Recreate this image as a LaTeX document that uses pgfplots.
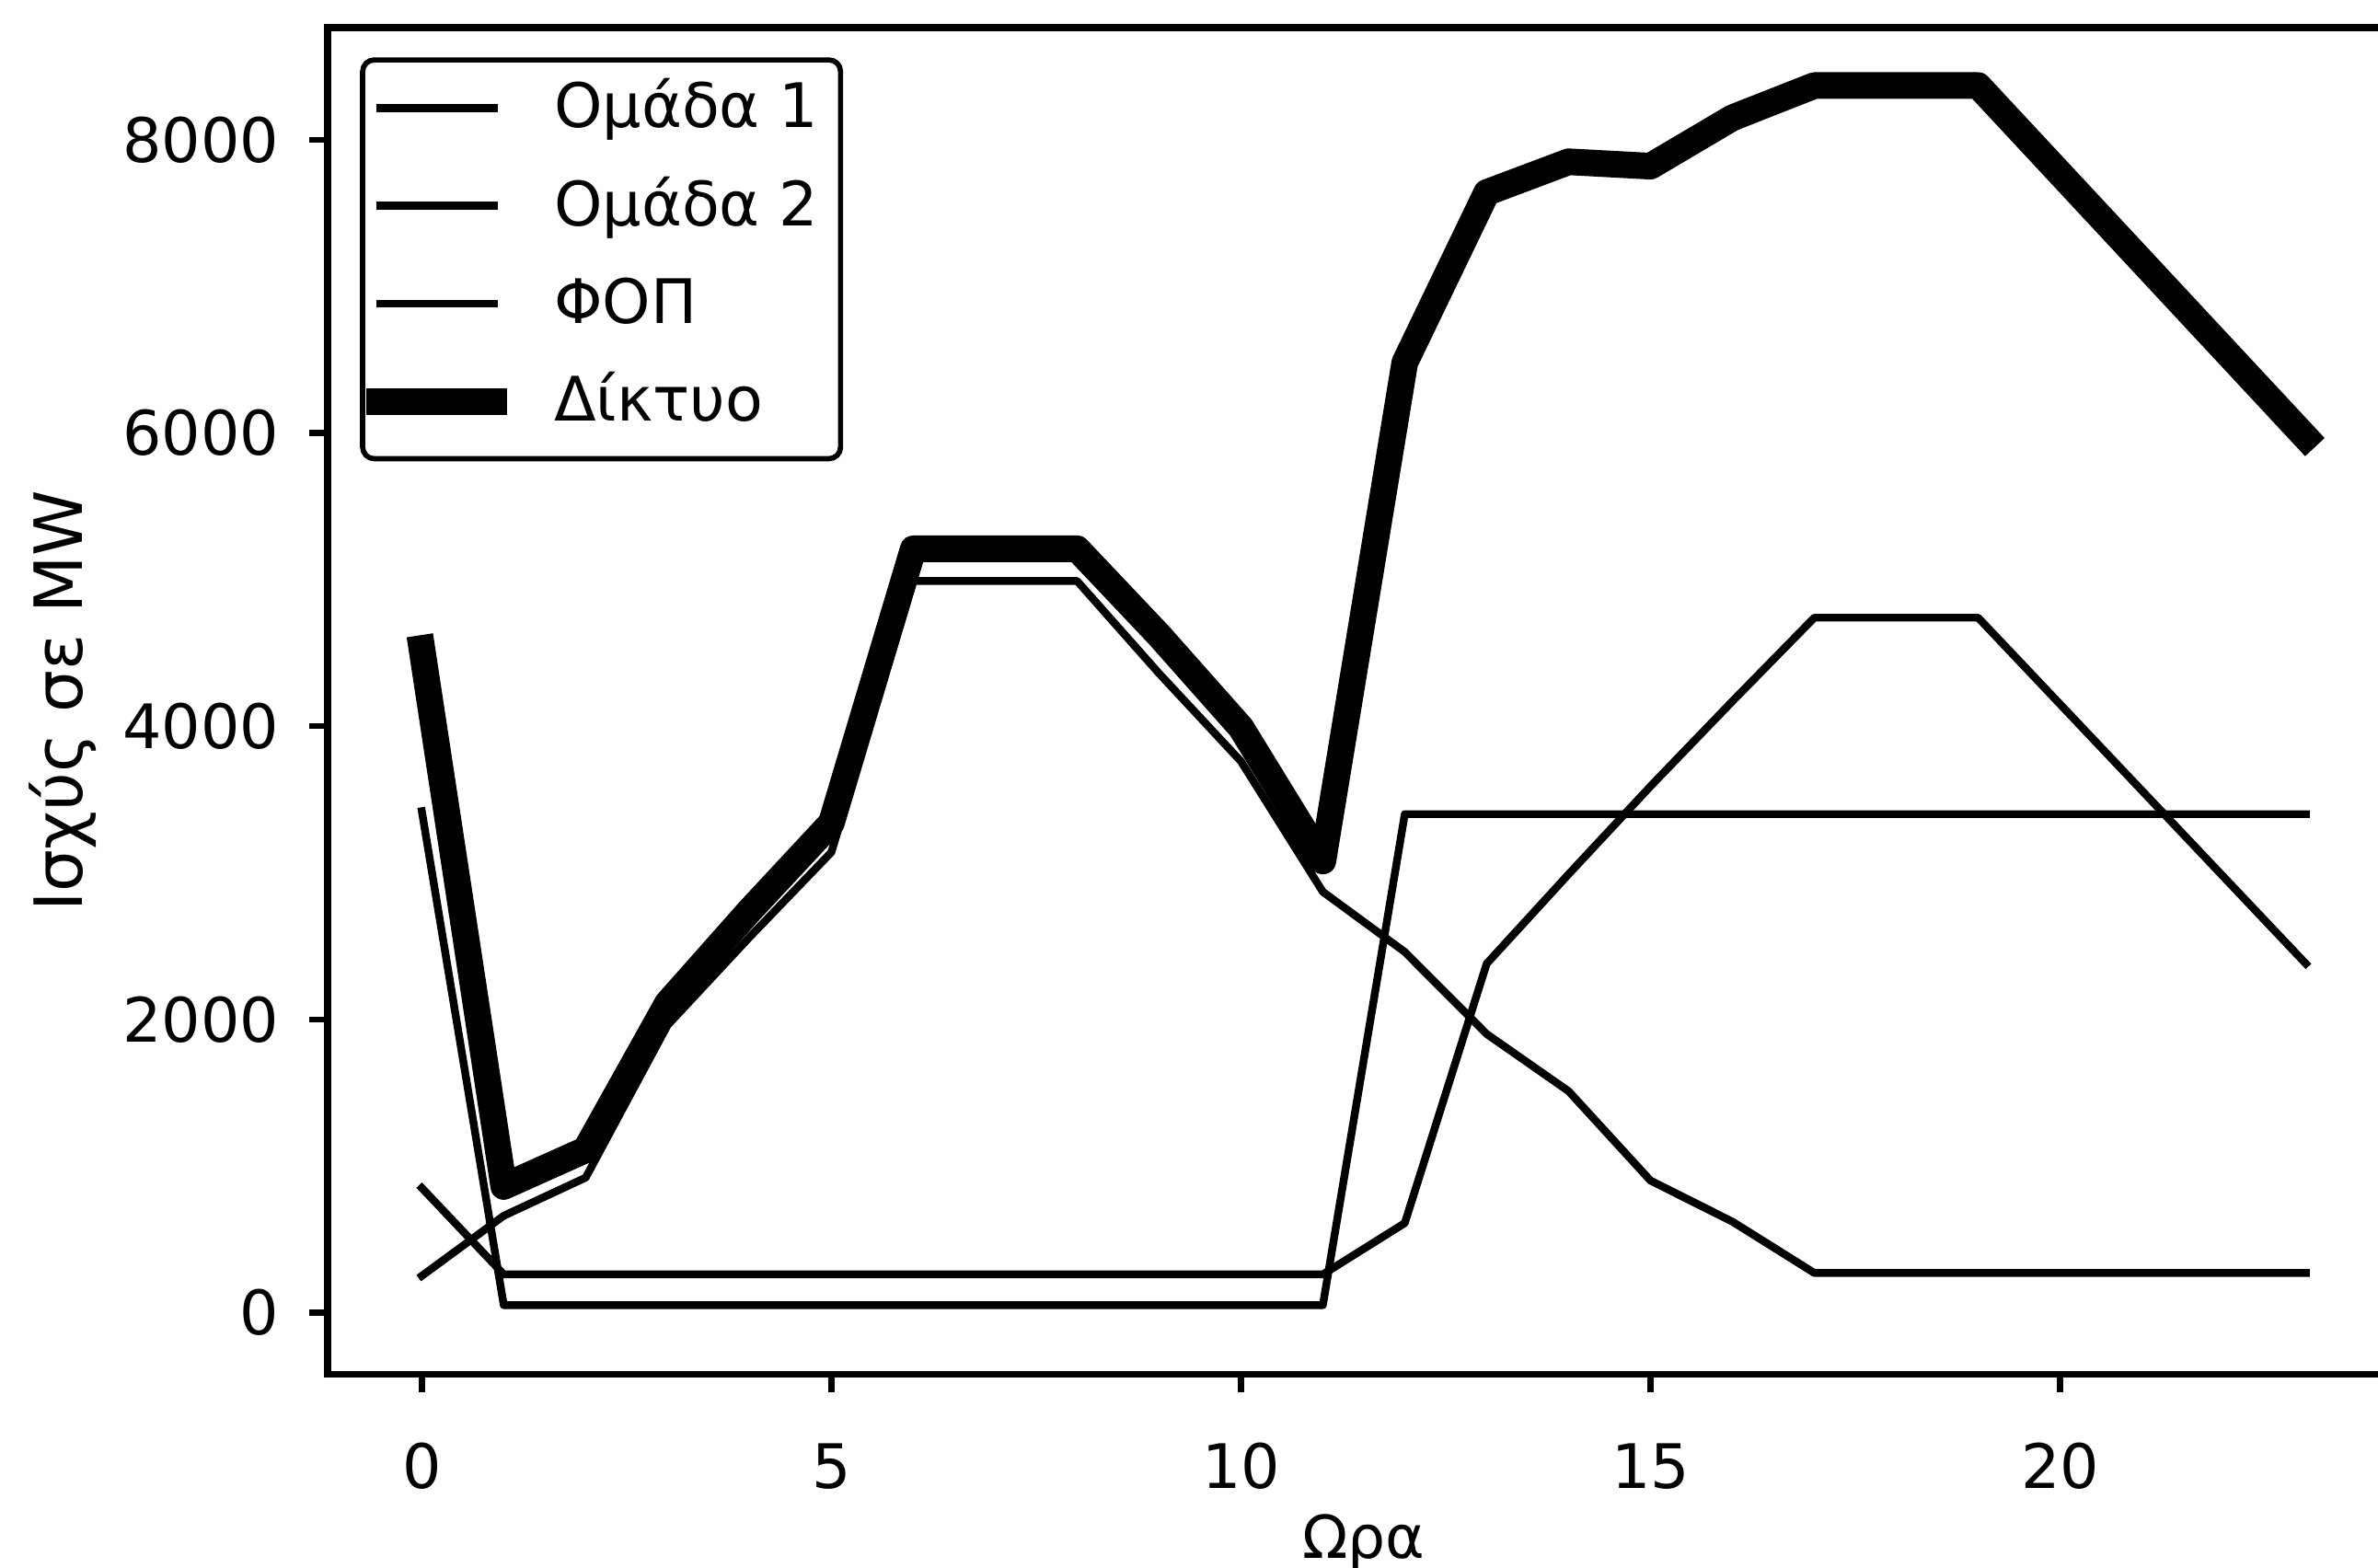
\documentclass[border=0pt]{standalone}
\usepackage{fontspec}
\setmainfont{DejaVu Sans}
\usepackage{pgfplots}
\usepackage{pgfplotstable}
\pgfplotsset{compat=1.18}

\pgfplotstableread{
x g1 g2 fop net
0 3420 850 250 4530
1 50 260 660 860
2 50 260 920 1110
3 50 260 1960 2110
4 50 260 2560 2740
5 50 260 3140 3340
6 50 260 4990 5210
7 50 260 4990 5210
8 50 260 4990 5210
9 50 260 4360 4620
10 50 260 3760 3990
11 50 260 2870 3080
12 3400 610 2460 6480
13 3400 2380 1900 7640
14 3400 2990 1510 7850
15 3400 3590 900 7820
16 3400 4170 620 8150
17 3400 4740 270 8370
18 3400 4740 270 8370
19 3400 4740 270 8370
20 3400 4150 270 7770
21 3400 3560 270 7170
22 3400 2970 270 6570
23 3400 2380 270 5970
}\datatable

\begin{document}
\begin{tikzpicture}
\begin{axis}[
  scale only axis, width=358.0pt, height=232.6pt,
  xmin=-1.15, xmax=24.15, ymin=-420, ymax=8764,
  xtick={0,5,10,15,20}, ytick={0,2000,4000,6000,8000},
  scaled y ticks=false,
  /pgf/number format/assume math mode=true,
  /pgf/number format/1000 sep={},
  tick align=outside, tick pos=left,
  major tick length=3.2pt,
  every tick/.style={black, line width=1pt},
  axis line style={line width=1.2pt},
  ticklabel style={font=\fontsize{10.6}{12.7}\selectfont},
  xticklabel style={anchor=center, yshift=-12.7pt},
  yticklabel style={anchor=east, xshift=-1.7pt},
  xlabel={Ωρα}, ylabel={Ισχύς σε MW},
  every axis x label/.style={at={(rel axis cs:0.5,0)}, anchor=center, yshift=-29.1pt, font=\fontsize{10.3}{12.4}\selectfont},
  every axis y label/.style={at={(rel axis cs:0,0.5)}, rotate=90, anchor=center, yshift=45.7pt, font=\fontsize{11.5}{13.8}\selectfont},
  legend style={at={(rel axis cs:0,1)}, anchor=north west, xshift=5.6pt, yshift=-5.1pt,
    draw=black, line width=0.9pt, rounded corners=2pt, inner xsep=3.8pt, inner ysep=4.2pt,
    row sep=7.1pt, font=\fontsize{10.6}{12.7}\selectfont,
    nodes={inner sep=0pt, text height=7.5pt, text depth=2.3pt}},
  legend cell align=left,
  legend image code/.code={\draw[#1, overlay] (-0.8pt,0.8pt) -- (18.9pt,0.8pt); \path[draw=none, fill=none] (0pt,0pt) -- (29.3pt,0pt);},
  every axis plot/.append style={black, line cap=rect, line join=round, no markers},
]
\addplot[line width=1.34pt] table[x=x,y=g1]{\datatable};
\addlegendentry{Ομάδα 1}
\addplot[line width=1.34pt] table[x=x,y=g2]{\datatable};
\addlegendentry{Ομάδα 2}
\addplot[line width=1.34pt] table[x=x,y=fop]{\datatable};
\addlegendentry{ΦΟΠ}
\addplot[line width=4.6pt] table[x=x,y=net]{\datatable};
\addlegendentry{Δίκτυο}
\coordinate (O) at (rel axis cs:0,0);
\end{axis}
\pgfresetboundingbox
\path[use as bounding box] ([shift={(-56.6pt,-33.4pt)}]O) rectangle ([shift={(354.2pt,237.4pt)}]O);
\end{tikzpicture}
\end{document}
